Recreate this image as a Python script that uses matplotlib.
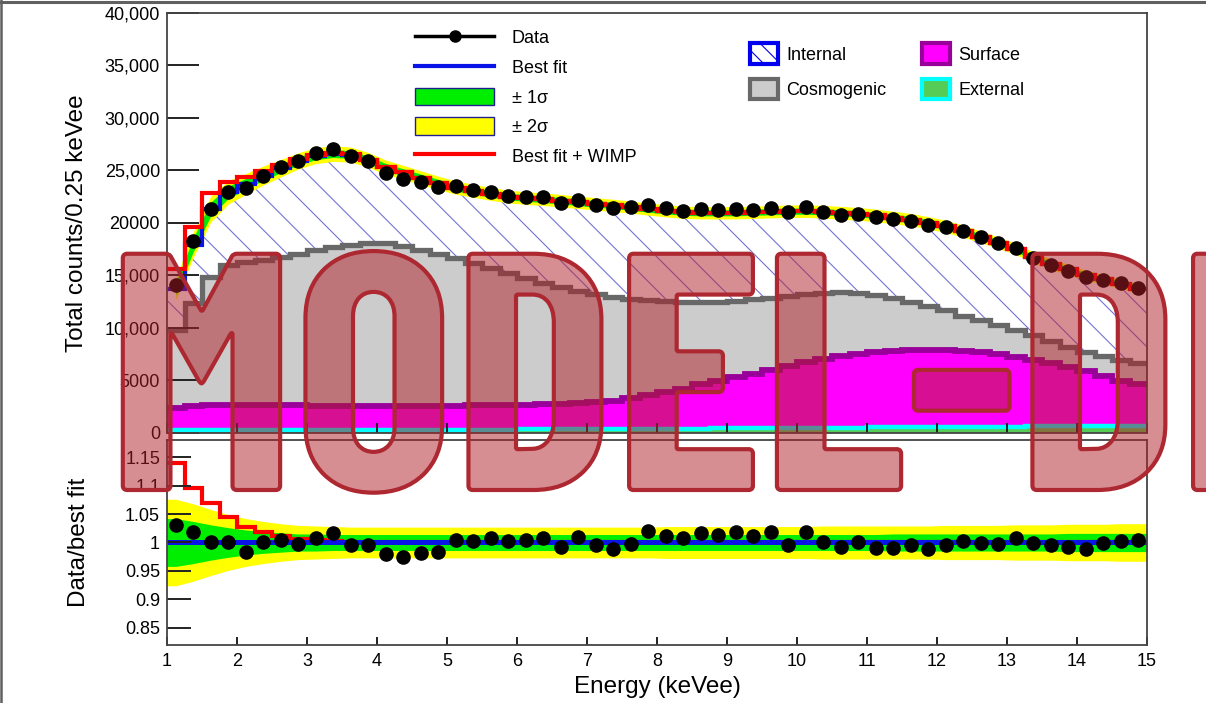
import os
import numpy as np
import matplotlib
matplotlib.use("Agg")
import matplotlib.pyplot as plt
from matplotlib.lines import Line2D
from matplotlib.patches import Patch
from matplotlib import patheffects as pe
from matplotlib import font_manager as fm

plt.rcParams['font.family'] = ['Liberation Sans', 'DejaVu Sans']
plt.rcParams['hatch.linewidth'] = 0.8

# 0.25 keVee bins from 1 to 15 keVee
edges = np.arange(1.0, 15.01, 0.25)
centers = 0.5 * (edges[:-1] + edges[1:])

# background components (counts / bin)
external = [240, 240, 250, 250, 250, 250, 250, 250, 250, 250,
            250, 260, 260, 260, 260, 270, 270, 270, 280, 280,
            290, 300, 300, 310, 320, 330, 340, 350, 360, 370,
            380, 390, 400, 410, 420, 430, 440, 450, 460, 470,
            480, 490, 500, 510, 520, 530, 540, 550, 560, 580,
            590, 600, 610, 620, 640, 650]
surface = [2060, 2310, 2350, 2400, 2400, 2400, 2350, 2350, 2300, 2250,
           2250, 2220, 2220, 2220, 2240, 2250, 2280, 2310, 2320, 2340,
           2360, 2380, 2420, 2470, 2550, 2720, 2910, 3180, 3460, 3780,
           4200, 4560, 4850, 5140, 5500, 5870, 6240, 6520, 6790, 6980,
           7160, 7260, 7330, 7340, 7310, 7220, 7100, 6900, 6620, 6370,
           6010, 5600, 5210, 4730, 4240, 3930]
cosmogenic = [7440, 9770, 12200, 13300, 13590, 13780, 14110, 14400, 14830, 15170,
              15360, 15570, 15570, 15280, 14880, 14480, 14070, 13560, 13060, 12560,
              12060, 11550, 11130, 10690, 10310, 9840, 9450, 9080, 8690, 8270,
              7840, 7470, 7260, 7150, 6880, 6690, 6500, 6300, 6120, 5820,
              5440, 5050, 4590, 4180, 3820, 3330, 3060, 2770, 2560, 2310,
              2090, 1920, 1820, 1910, 2000, 2010]
internal = [3960, 5580, 6500, 6950, 7460, 8070, 8490, 8900, 9020, 8930,
            8640, 7950, 7250, 7040, 6920, 6800, 6730, 6910, 7090, 7320,
            7640, 8020, 8250, 8480, 8620, 8760, 8800, 8690, 8640, 8580,
            8530, 8530, 8440, 8300, 8250, 8110, 7920, 7780, 7580, 7580,
            7620, 7700, 7880, 7970, 8000, 8120, 7950, 7880, 7760, 7440,
            7360, 7430, 7360, 7340, 7320, 7110]

# data / best fit
ratio = [1.030, 1.018, 1.000, 1.000, 0.983, 1.000, 1.005, 0.998, 1.008, 1.017,
         0.996, 0.996, 0.979, 0.974, 0.981, 0.984, 1.005, 1.002, 1.008, 1.002,
         1.004, 1.008, 0.992, 1.010, 0.995, 0.988, 0.998, 1.020, 1.012, 1.008,
         1.016, 1.013, 1.019, 1.012, 1.018, 0.995, 1.018, 1.001, 0.992, 1.001,
         0.991, 0.991, 0.995, 0.988, 0.995, 1.002, 0.999, 0.998, 1.008, 0.999,
         0.995, 0.992, 0.988, 0.999, 1.002, 1.005]

# (best fit + WIMP) / best fit
wimp_ratio = [1.140, 1.096, 1.070, 1.044, 1.028, 1.018, 1.011, 1.007, 1.004, 1.002,
              1.001, 1.0, 1.0, 1.0, 1.0, 1.0, 1.0, 1.0, 1.0, 1.0,
              1.0, 1.0, 1.0, 1.0, 1.0, 1.0, 1.0, 1.0, 1.0, 1.0,
              1.0, 1.0, 1.0, 1.0, 1.0, 1.0, 1.0, 1.0, 1.0, 1.0,
              1.0, 1.0, 1.0, 1.0, 1.0, 1.0, 1.0, 1.0, 1.0, 1.0,
              1.0, 1.0, 1.0, 1.0, 1.0, 1.0]

# relative fit uncertainty
sigma1 = [0.042, 0.037, 0.031, 0.026, 0.022, 0.019, 0.017, 0.015, 0.015, 0.014,
          0.014, 0.014, 0.014, 0.014, 0.014, 0.014, 0.014, 0.014, 0.014, 0.014,
          0.014, 0.014, 0.014, 0.014, 0.014, 0.014, 0.014, 0.014, 0.014, 0.014,
          0.014, 0.014, 0.014, 0.014, 0.014, 0.014, 0.014, 0.014, 0.014, 0.014,
          0.014, 0.015, 0.015, 0.015, 0.015, 0.015, 0.015, 0.015, 0.015, 0.015,
          0.015, 0.016, 0.016, 0.016, 0.016, 0.016]
sigma2 = [0.076, 0.068, 0.058, 0.049, 0.042, 0.037, 0.033, 0.030, 0.029, 0.028,
          0.027, 0.027, 0.027, 0.027, 0.027, 0.027, 0.027, 0.027, 0.027, 0.027,
          0.027, 0.027, 0.027, 0.027, 0.027, 0.027, 0.027, 0.027, 0.028, 0.028,
          0.028, 0.028, 0.028, 0.028, 0.028, 0.028, 0.028, 0.029, 0.029, 0.029,
          0.029, 0.029, 0.029, 0.029, 0.030, 0.030, 0.030, 0.030, 0.031, 0.031,
          0.031, 0.032, 0.032, 0.032, 0.033, 0.033]

count_ticks = [0, 5000, 10000, 15000, 20000, 25000, 30000, 35000, 40000]
count_labels = ['0', '5000', '10,000', '15,000', '20000', '25,000', '30,000', '35,000', '40,000']
ratio_ticks = [0.85, 0.9, 0.95, 1.0, 1.05, 1.1, 1.15]
ratio_labels = ['0.85', '0.9', '0.95', '1', '1.05', '1.1', '1.15']
energy_ticks = list(range(1, 16))

# stack the components
ext_top = np.array(external, float)
surf_top = ext_top + surface
cosmo_top = surf_top + cosmogenic
best_fit = cosmo_top + internal
data = best_fit * np.array(ratio)
best_wimp = best_fit * np.array(wimp_ratio)
s1 = np.array(sigma1)
s2 = np.array(sigma2)

W, H = 1206, 703
fig = plt.figure(figsize=(W / 100, H / 100), dpi=100)
ax1 = fig.add_axes([167 / W, (H - 432.5) / H, 980 / W, 419.5 / H])
ax2 = fig.add_axes([167 / W, (H - 645) / H, 980 / W, 205 / H])

GREEN = '#00ee00'
YELLOW = '#ffff00'
BLUE = '#0a14e6'
RED = '#ff0000'

# ---- top panel: stacked backgrounds
zero = np.zeros_like(ext_top)
ax1.stairs(ext_top, edges, baseline=zero, fill=True, color='#55cc55', lw=0)
ax1.stairs(surf_top, edges, baseline=ext_top, fill=True, color='#ff00ff', lw=0)
ax1.stairs(cosmo_top, edges, baseline=surf_top, fill=True, color='#cccccc', lw=0)
ax1.stairs(best_fit, edges, baseline=cosmo_top, fill=True, facecolor='white',
           edgecolor='#7474d4', hatch='\\', lw=0)
ax1.stairs(ext_top, edges, baseline=None, color='#00ffff', lw=3.2)
ax1.stairs(surf_top, edges, baseline=None, color='#990099', lw=4.2)
ax1.stairs(cosmo_top, edges, baseline=None, color='#686868', lw=3.8)

ax1.fill_between(centers, best_fit * (1 - s2), best_fit * (1 + s2), color=YELLOW, lw=0)
ax1.fill_between(centers, best_fit * (1 - s1), best_fit * (1 + s1), color=GREEN, lw=0)
ax1.stairs(best_fit, edges, baseline=None, color=BLUE, lw=3)
ax1.stairs(best_wimp, edges, baseline=None, color=RED, lw=3)
ax1.plot(centers, data, 'o', color='black', ms=9.5, zorder=5)

ax1.set_xlim(1, 15)
ax1.set_ylim(0, 40000)
ax1.set_yticks(count_ticks, count_labels)
ax1.set_xticks(energy_ticks)
ax1.tick_params(axis='x', direction='in', length=7, width=1.4, color='#222222',
                labelbottom=False)
ax1.tick_params(axis='y', direction='in', length=23, width=1.4, color='#222222',
                labelsize=13, pad=5)
ax1.set_ylabel('Total counts/0.25 keVee', fontsize=17.5)
ax1.yaxis.set_label_coords(-0.0806, 0.5)

legend_a = [Line2D([], [], color='black', lw=2.5, marker='o', ms=8),
            Line2D([], [], color=BLUE, lw=3),
            Patch(facecolor=GREEN, edgecolor='#202090', lw=1),
            Patch(facecolor=YELLOW, edgecolor='#202090', lw=1),
            Line2D([], [], color=RED, lw=3)]
leg1 = ax1.legend(legend_a, ['Data', 'Best fit', '± 1σ', '± 2σ', 'Best fit + WIMP'],
                  loc='upper left', bbox_to_anchor=(0.2531, 0.963), frameon=False,
                  fontsize=13, borderpad=0, borderaxespad=0, handlelength=4.4,
                  handleheight=1.1, handletextpad=0.95, labelspacing=0.6, numpoints=1)
ax1.add_artist(leg1)

legend_b = [Patch(facecolor='white', edgecolor='#0000ee', hatch='\\\\', lw=3),
            Patch(facecolor='#cccccc', edgecolor='#686868', lw=3),
            Patch(facecolor='#ff00ff', edgecolor='#990099', lw=3),
            Patch(facecolor='#55cc55', edgecolor='#00ffff', lw=3)]
ax1.legend(legend_b, ['Internal', 'Cosmogenic', 'Surface', 'External'], ncol=2,
           loc='upper left', bbox_to_anchor=(0.5949, 0.928), frameon=False,
           fontsize=13, borderpad=0, borderaxespad=0, handlelength=1.55,
           handleheight=1.38, handletextpad=0.45, labelspacing=0.82, columnspacing=2.0)

# ---- bottom panel: ratio
xb = np.r_[edges[0], centers, edges[-1]]
s1b = np.r_[s1[0], s1, s1[-1]]
s2b = np.r_[s2[0], s2, s2[-1]]
ax2.fill_between(xb, 1 - s2b, 1 + s2b, color=YELLOW, lw=0)
ax2.fill_between(xb, 1 - s1b, 1 + s1b, color=GREEN, lw=0)
ax2.stairs(wimp_ratio, edges, baseline=None, color=RED, lw=3)
ax2.stairs(best_fit / best_fit, edges, baseline=None, color=BLUE, lw=3.6)
ax2.plot(centers, ratio, 'o', color='black', ms=9.5, zorder=5)

ax2.set_xlim(1, 15)
ax2.set_ylim(0.82, 1.18)
ax2.set_yticks(ratio_ticks, ratio_labels)
ax2.set_xticks(energy_ticks)
ax2.tick_params(axis='x', direction='in', length=6, width=1.4, color='#222222',
                labelsize=13, pad=6)
ax2.tick_params(axis='y', direction='in', length=17, width=1.4, color='#222222',
                labelsize=13, pad=5)
ax2.set_xlabel('Energy (keVee)', fontsize=17.5, labelpad=4)
ax2.set_ylabel('Data/best fit', fontsize=17.5)
ax2.yaxis.set_label_coords(-0.0786, 0.5)

for ax in (ax1, ax2):
    for sp in ax.spines.values():
        sp.set_color('#444444')
        sp.set_linewidth(1.3)

# page border
fig.add_artist(Line2D([0, 1], [1 - 1.5 / H] * 2, transform=fig.transFigure,
                      color='#606060', lw=2.2))
fig.add_artist(Line2D([1.2 / W] * 2, [0, 1], transform=fig.transFigure,
                      color='#606060', lw=1.8))

# watermark in a condensed bold face
mark_font = fm.FontProperties(family='DejaVu Sans', weight='bold')
for f in fm.fontManager.ttflist:
    if os.path.basename(f.fname) == 'BarlowCondensed-Bold.ttf':
        mark_font = fm.FontProperties(fname=f.fname)
        break
fig.text(109 / W, (H - 490) / H, 'MODEL-DEPENDENT', ha='left', va='baseline',
         fontproperties=mark_font, fontsize=243, color=(0.69, 0.12, 0.16, 0.5),
         path_effects=[pe.Stroke(linewidth=3, foreground='#ad2830')])

fig.savefig('out.png', dpi=100)
